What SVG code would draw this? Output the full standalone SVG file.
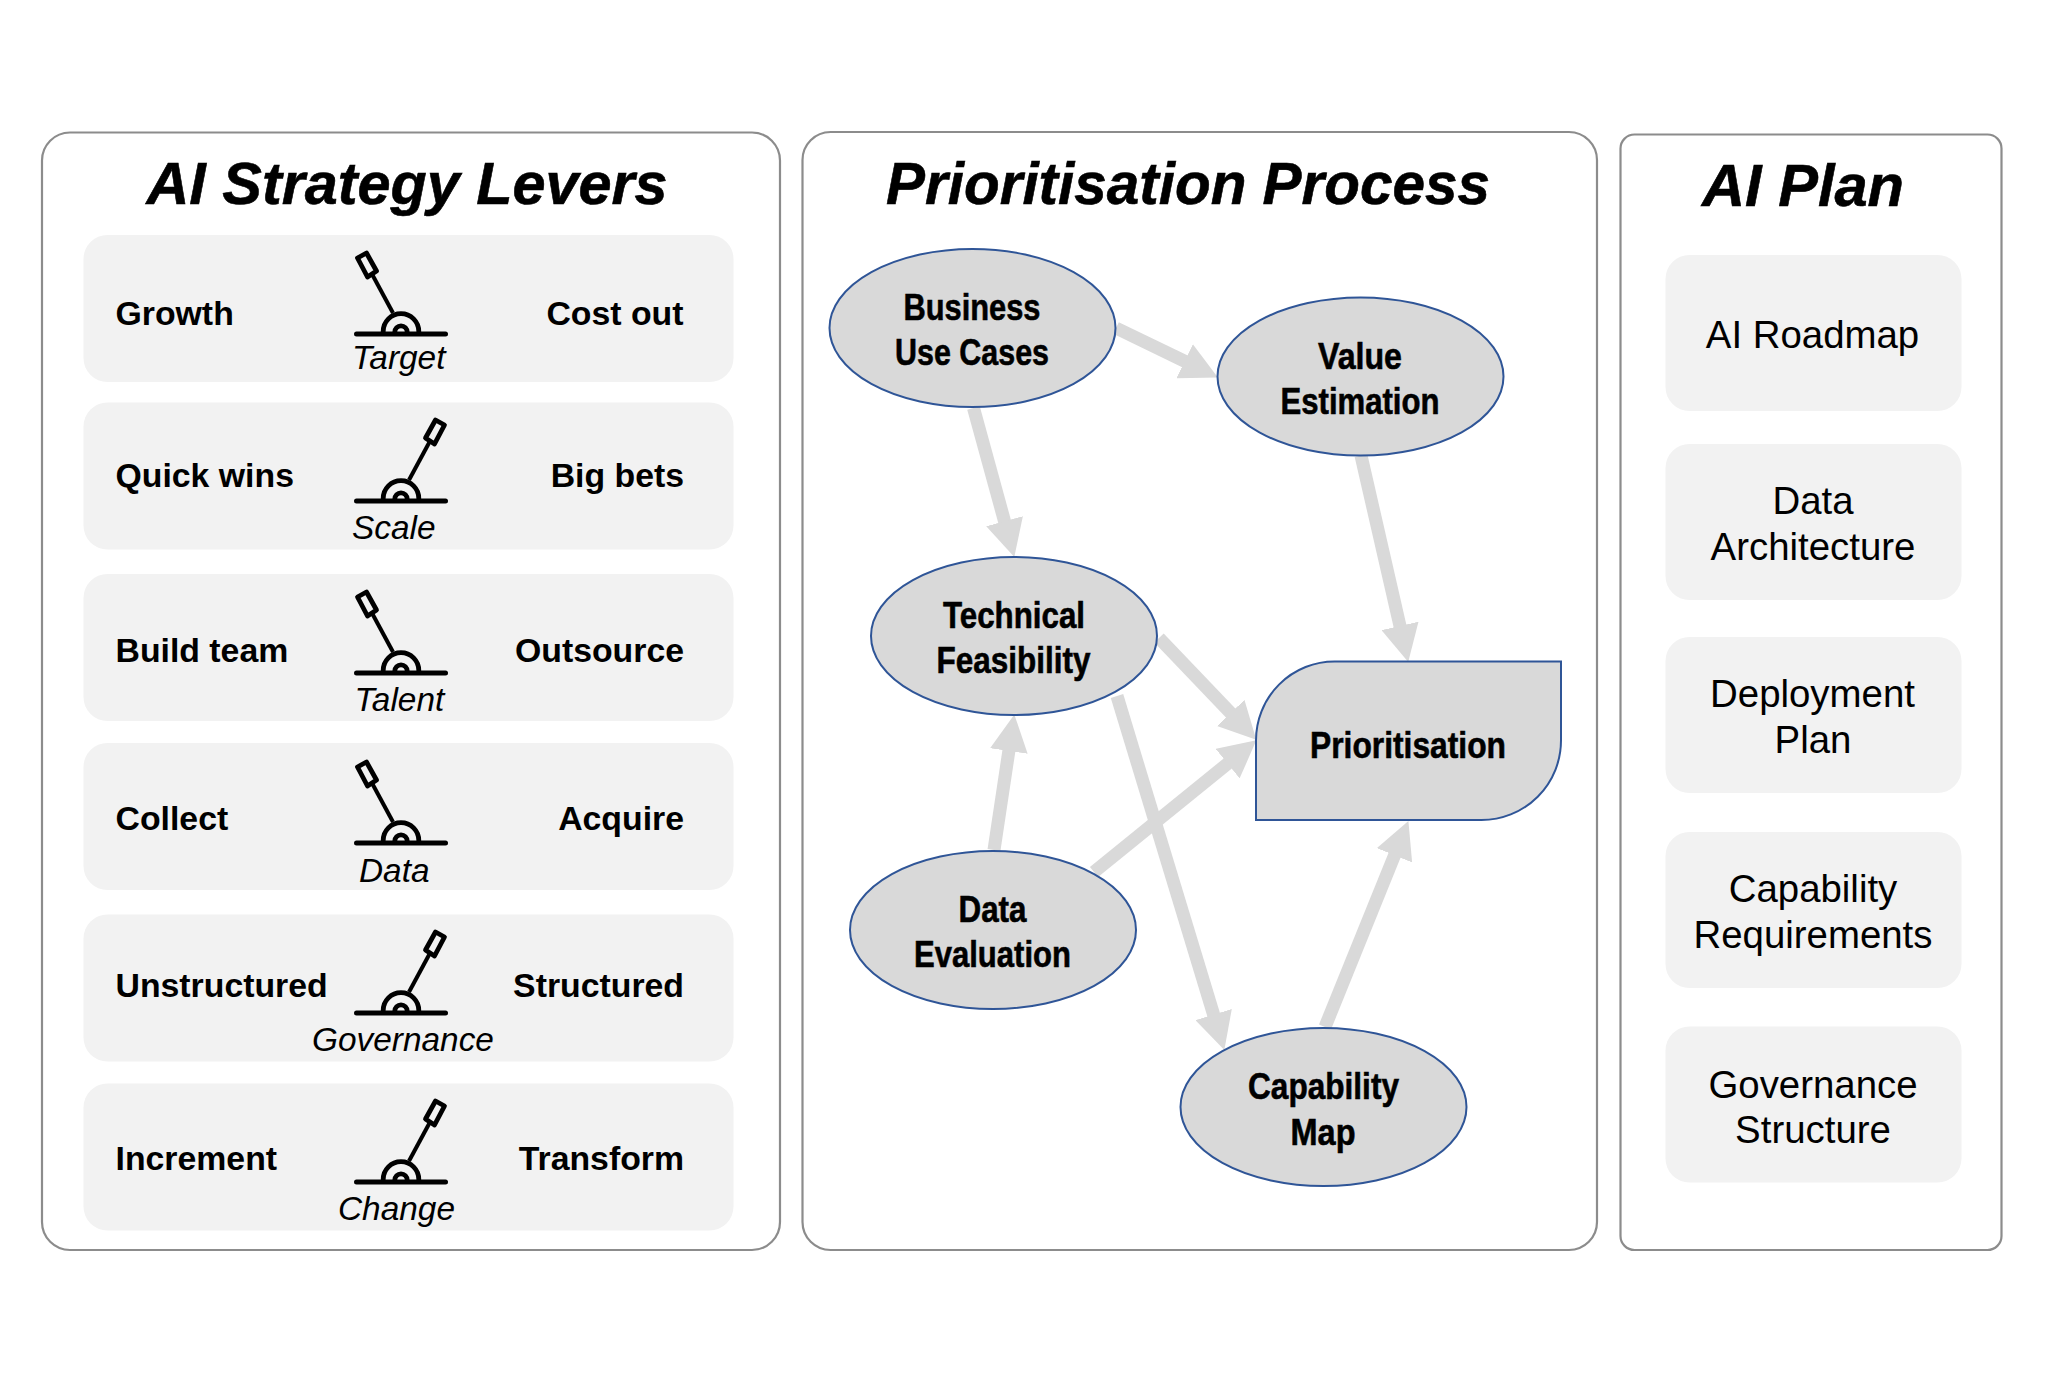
<svg xmlns="http://www.w3.org/2000/svg" xmlns:xlink="http://www.w3.org/1999/xlink" width="2048" height="1374" viewBox="0 0 2048 1374">
<style>
text{font-family:"Liberation Sans",Arial,sans-serif;fill:#000}
.panel{fill:#fff;stroke:#8c8c8c;stroke-width:2.2}
.card{fill:#f2f2f2}
.title{font-size:60px;font-weight:700;font-style:italic;stroke:#000;stroke-width:.6}
.lab{font-size:33.800px;font-weight:700}
.end{text-anchor:end}
.cap{font-size:33.400px;font-style:italic}
.plan{font-size:38.400px;text-anchor:middle}
.proc{fill:#d9d9d9;stroke:#2f5597;stroke-width:2}
.pt{font-size:37px;font-weight:700;stroke:#000;stroke-width:.6}
.conn{stroke:#d9d9d9;stroke-width:13;fill:none;marker-end:url(#arrow)}
.lv{fill:none;stroke:#000;stroke-width:4}
.lv-base{fill:none;stroke:#000;stroke-width:5;stroke-linecap:round}
.lv-dome{fill:none;stroke:#000;stroke-width:4.800}
.lv-grip{fill:none;stroke:#000;stroke-width:4.800;stroke-linejoin:round}
</style>
<defs>
<marker id="arrow" markerUnits="userSpaceOnUse" markerWidth="37" markerHeight="38" viewBox="0 0 37 38" refX="1" refY="19" orient="auto"><path d="M0,0L37,19L0,38Z" fill="#d9d9d9"/></marker>
<g id="lever">
<path class="lv-base" d="M-44.500,0H44.500"/>
<path class="lv-dome" d="M-17.800,0V-2.500A17.800,17.800 0 0 1 17.800,-2.500V0M-6.200,0V-2A6.200,6.200 0 0 1 6.200,-2V0"/>
<path class="lv" d="M-8,-21L-28.500,-59"/>
<path class="lv-grip" d="M-43.500,-76L-34.500,-81L-24.500,-63L-33.500,-57Z"/>
</g>
</defs>
<rect width="2048" height="1374" fill="#fff"/>
<g id="panel-levers">
<rect class="panel" x="42" y="132.500" width="738" height="1117.500" rx="28"/>
<text class="title" x="146.500" y="204" textLength="521" lengthAdjust="spacingAndGlyphs">AI Strategy Levers</text>
</g>
<g id="panel-process">
<rect class="panel" x="802.500" y="132" width="794.500" height="1118" rx="28"/>
<text class="title" x="886" y="204" textLength="604" lengthAdjust="spacingAndGlyphs">Prioritisation Process</text>
</g>
<g id="panel-plan">
<rect class="panel" x="1620.500" y="134.500" width="381" height="1115.500" rx="14"/>
<text class="title" x="1702" y="206" textLength="202" lengthAdjust="spacingAndGlyphs">AI Plan</text>
</g>
<g id="lever-target">
<rect class="card" x="83.500" y="235" width="650" height="147" rx="24"/>
<use xlink:href="#lever" href="#lever" transform="translate(401,334)"/>
<text class="lab" x="115.500" y="325">Growth</text><text class="lab end" x="683.500" y="325">Cost out</text>
<text class="cap" x="352" y="369">Target</text>
</g>
<g id="lever-scale">
<rect class="card" x="83.500" y="402.500" width="650" height="147" rx="24"/>
<use xlink:href="#lever" href="#lever" transform="translate(401,501) scale(-1,1)"/>
<text class="lab" x="115.500" y="487">Quick wins</text><text class="lab end" x="684" y="487">Big bets</text>
<text class="cap" x="352" y="539">Scale</text>
</g>
<g id="lever-talent">
<rect class="card" x="83.500" y="574" width="650" height="147" rx="24"/>
<use xlink:href="#lever" href="#lever" transform="translate(401,673)"/>
<text class="lab" x="115.500" y="662">Build team</text><text class="lab end" x="684" y="662">Outsource</text>
<text class="cap" x="354.500" y="711">Talent</text>
</g>
<g id="lever-data">
<rect class="card" x="83.500" y="743" width="650" height="147" rx="24"/>
<use xlink:href="#lever" href="#lever" transform="translate(401,843)"/>
<text class="lab" x="115.500" y="830">Collect</text><text class="lab end" x="684" y="830">Acquire</text>
<text class="cap" x="359" y="881.500">Data</text>
</g>
<g id="lever-governance">
<rect class="card" x="83.500" y="914.500" width="650" height="147" rx="24"/>
<use xlink:href="#lever" href="#lever" transform="translate(401,1013) scale(-1,1)"/>
<text class="lab" x="115.500" y="997">Unstructured</text><text class="lab end" x="684" y="997">Structured</text>
<text class="cap" x="312" y="1051">Governance</text>
</g>
<g id="lever-change">
<rect class="card" x="83.500" y="1083.500" width="650" height="147" rx="24"/>
<use xlink:href="#lever" href="#lever" transform="translate(401,1182) scale(-1,1)"/>
<text class="lab" x="115.500" y="1170">Increment</text><text class="lab end" x="684" y="1170">Transform</text>
<text class="cap" x="338" y="1220">Change</text>
</g>
<g id="connectors">
<line class="conn" x1="1116" y1="328" x2="1185.500" y2="361.700"/>
<line class="conn" x1="973.500" y1="408" x2="1004.800" y2="522.200"/>
<line class="conn" x1="1361" y1="455.500" x2="1400.200" y2="626.900"/>
<line class="conn" x1="1159" y1="638" x2="1231.400" y2="713.700"/>
<line class="conn" x1="994" y1="850" x2="1009" y2="750"/>
<line class="conn" x1="1094" y1="872" x2="1228.400" y2="763"/>
<line class="conn" x1="1117" y1="696" x2="1213.900" y2="1015.500"/>
<line class="conn" x1="1325" y1="1027" x2="1394.900" y2="854.400"/>
</g>
<g id="node-business">
<ellipse class="proc" cx="972.500" cy="328" rx="143" ry="79"/>
<text class="pt" x="972" y="320" text-anchor="middle" textLength="137" lengthAdjust="spacingAndGlyphs">Business</text>
<text class="pt" x="972" y="365" text-anchor="middle" textLength="154" lengthAdjust="spacingAndGlyphs">Use Cases</text>
</g>
<g id="node-value">
<ellipse class="proc" cx="1360.500" cy="376.500" rx="143" ry="79"/>
<text class="pt" x="1360" y="369" text-anchor="middle" textLength="84" lengthAdjust="spacingAndGlyphs">Value</text>
<text class="pt" x="1360" y="414" text-anchor="middle" textLength="159" lengthAdjust="spacingAndGlyphs">Estimation</text>
</g>
<g id="node-technical">
<ellipse class="proc" cx="1014" cy="636" rx="143" ry="79"/>
<text class="pt" x="1014" y="628" text-anchor="middle" textLength="142" lengthAdjust="spacingAndGlyphs">Technical</text>
<text class="pt" x="1013.500" y="673" text-anchor="middle" textLength="154" lengthAdjust="spacingAndGlyphs">Feasibility</text>
</g>
<g id="node-data">
<ellipse class="proc" cx="993" cy="930" rx="143" ry="79"/>
<text class="pt" x="992.500" y="922" text-anchor="middle" textLength="68" lengthAdjust="spacingAndGlyphs">Data</text>
<text class="pt" x="992.500" y="967" text-anchor="middle" textLength="157" lengthAdjust="spacingAndGlyphs">Evaluation</text>
</g>
<g id="node-capability">
<ellipse class="proc" cx="1323.500" cy="1107" rx="143" ry="79"/>
<text class="pt" x="1323.500" y="1099" text-anchor="middle" textLength="151" lengthAdjust="spacingAndGlyphs">Capability</text>
<text class="pt" x="1323" y="1144.500" text-anchor="middle" textLength="65" lengthAdjust="spacingAndGlyphs">Map</text>
</g>
<g id="node-prioritisation">
<path class="proc" d="M1334.500,661.500H1561V740.500A79.500,79.500 0 0 1 1481.500,820H1256V740.500A78.500,79 0 0 1 1334.500,661.500Z"/>
<text class="pt" x="1408" y="758" text-anchor="middle" textLength="196" lengthAdjust="spacingAndGlyphs">Prioritisation</text>
</g>
<g id="plan-roadmap"><rect class="card" x="1665.500" y="255" width="296" height="156" rx="24"/><text class="plan" x="1812.500" y="348">AI Roadmap</text></g>
<g id="plan-data"><rect class="card" x="1665.500" y="444" width="296" height="156" rx="24"/><text class="plan" x="1813" y="514">Data</text><text class="plan" x="1813" y="560">Architecture</text></g>
<g id="plan-deployment"><rect class="card" x="1665.500" y="637" width="296" height="156" rx="24"/><text class="plan" x="1812.500" y="707">Deployment</text><text class="plan" x="1813" y="753">Plan</text></g>
<g id="plan-capability"><rect class="card" x="1665.500" y="832" width="296" height="156" rx="24"/><text class="plan" x="1813" y="902">Capability</text><text class="plan" x="1813" y="948">Requirements</text></g>
<g id="plan-governance"><rect class="card" x="1665.500" y="1026.500" width="296" height="156" rx="24"/><text class="plan" x="1813" y="1098">Governance</text><text class="plan" x="1813" y="1143">Structure</text></g>
</svg>
